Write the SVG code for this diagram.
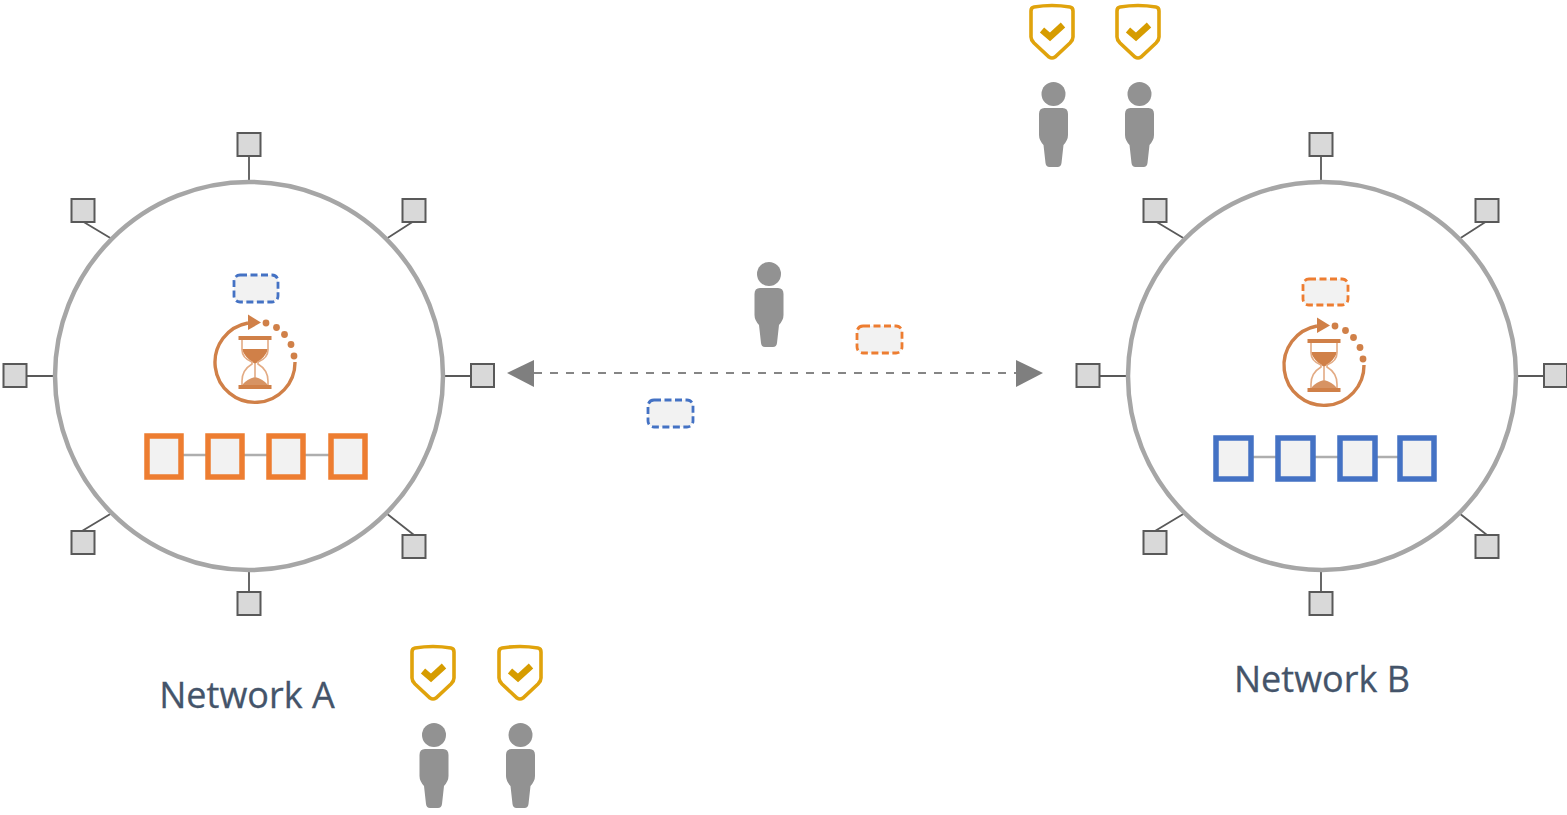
<svg xmlns="http://www.w3.org/2000/svg" xmlns:xlink="http://www.w3.org/1999/xlink" width="1567" height="815" viewBox="0 0 1567 815">
<style>
.ring{fill:#fff;stroke:#a6a6a6;stroke-width:4.500}
.port{fill:#d9d9d9;stroke:#595959;stroke-width:2}
.link{stroke:#595959;stroke-width:1.800;fill:none}
.cell{fill:#f2f2f2;stroke-width:5.500}
.chain{stroke:#aeaeae;stroke-width:2.500;fill:none}
.pkt{fill:#f2f2f2;stroke-width:2.800;stroke-dasharray:7 3.500}
.o{stroke:#ed7d31}
.b{stroke:#4472c4}
.person{fill:#929292}
.label{font-family:"Open Sans","Noto Sans","Liberation Sans",sans-serif;font-size:36px;fill:#44546a;text-anchor:middle;stroke:#44546a;stroke-width:.3}
</style>
<defs>
<g id="person">
<circle cx="0" cy="-34" r="12"/>
<path d="M-9,-20H9Q14.500,-20 14.500,-14V7Q14.500,12 10,17L8,35Q7.500,39 4,39H-4Q-7.500,39 -8,35L-10,17Q-14.500,12 -14.500,7V-14Q-14.500,-20 -9,-20Z"/>
</g>
<g id="shield">
<path d="M-21,-21Q-21,-24.500 -18,-25Q0,-28 18,-25Q21,-24.500 21,-21V5Q21,8 18,11L3,25Q0,27 -3,25L-18,11Q-21,8 -21,5Z" fill="#fff" stroke="#e0a30c" stroke-width="3.600"/>
<path d="M-10,-2L-2,5L11,-7" fill="none" stroke="#d69c00" stroke-width="6.500"/>
</g>
<g id="timer">
<path fill="none" stroke="#d08048" stroke-width="3.400" d="M-7,-39A40,40 0 1 0 40,0"/>
<path d="M-7,-47.500L6,-39.500L-7,-32Z" fill="#d08048"/>
<g fill="#d08048">
<circle cx="11" cy="-39" r="3.400"/><circle cx="21.500" cy="-34.500" r="3.400"/><circle cx="29.500" cy="-27.500" r="3.400"/><circle cx="36" cy="-17.500" r="3.400"/><circle cx="39" cy="-6" r="3.400"/>
<rect x="-16.500" y="-26" width="33" height="4"/><rect x="-16.500" y="23" width="33" height="4"/>
<path d="M-13,-13H13Q11,-5 0,2Q-11,-5 -13,-13Z"/>
<path d="M-13,23Q-8,17 0,15Q8,17 13,23Z" opacity=".85"/>
</g>
<path fill="none" stroke="#e3ab84" stroke-width="1.600" d="M-13,-22V-12Q-13,-4 -3,0V2Q-13,8 -13,19V23M13,-22V-12Q13,-4 3,0V2Q13,8 13,19V23M0,2V15"/>
</g>
<g id="ports-a">
<path class="link" d="M0,-194V-220M-137,-137L-167,-155M137,-137L165,-155M-194,0H-222M194,0H222M-137,137L-167,155M137,137L165,159M0,194V216"/>
<rect class="port" x="-11.500" y="-243" width="23" height="23"/>
<rect class="port" x="-177.500" y="-177" width="23" height="23"/>
<rect class="port" x="153.500" y="-177" width="23" height="23"/>
<rect class="port" x="-245.500" y="-12" width="23" height="23"/>
<rect class="port" x="222" y="-12" width="23" height="23"/>
<rect class="port" x="-177.500" y="155" width="23" height="23"/>
<rect class="port" x="153.500" y="159" width="23" height="23"/>
<rect class="port" x="-11.500" y="216" width="23" height="23"/>
</g>
<g id="ports-b">
<path class="link" d="M-1,-194V-220M-137,-137L-167,-155M137,-137L165,-155M-194,0H-222M194,0H222M-137,137L-167,155M137,137L165,159M-1,194V216"/>
<rect class="port" x="-12.500" y="-243" width="23" height="23"/>
<rect class="port" x="-178.500" y="-177" width="23" height="23"/>
<rect class="port" x="153.500" y="-177" width="23" height="23"/>
<rect class="port" x="-245.500" y="-12" width="23" height="23"/>
<rect class="port" x="222" y="-12" width="23" height="23"/>
<rect class="port" x="-178.500" y="155" width="23" height="23"/>
<rect class="port" x="153.500" y="159" width="23" height="23"/>
<rect class="port" x="-12.500" y="216" width="23" height="23"/>
</g>
</defs>

<g id="connectors">
<path d="M534,373H1016" fill="none" stroke="#858585" stroke-width="2.200" stroke-dasharray="8 8"/>
<path d="M507,373L534,360V387Z" fill="#7f7f7f"/>
<path d="M1043,373L1016,360V387Z" fill="#7f7f7f"/>
</g>

<g id="network-a">
<use xlink:href="#ports-a" href="#ports-a" x="249" y="376"/>
<circle class="ring" cx="249" cy="376" r="194"/>
<rect class="pkt b" x="234" y="275" width="44" height="27" rx="6"/>
<use href="#timer" x="255" y="362" xlink:href="#timer"/>
<path class="chain" d="M183,455H206M244,455H267M305,455H330"/>
<rect class="cell o" x="147" y="436" width="34" height="41"/>
<rect class="cell o" x="208" y="436" width="34" height="41"/>
<rect class="cell o" x="269" y="436" width="34" height="41"/>
<rect class="cell o" x="331" y="436" width="34" height="41"/>
<text class="label" x="247" y="708">Network A</text>
</g>

<g id="network-b">
<use href="#ports-b" x="1322" y="376" xlink:href="#ports-b"/>
<circle class="ring" cx="1322" cy="376" r="194"/>
<rect class="pkt o" x="1303" y="279" width="45" height="26" rx="6"/>
<use href="#timer" x="1324" y="365" xlink:href="#timer"/>
<path class="chain" d="M1252,457H1277M1314,457H1339M1375,457H1399"/>
<rect class="cell b" x="1216" y="438" width="35" height="41"/>
<rect class="cell b" x="1278" y="438" width="35" height="41"/>
<rect class="cell b" x="1340" y="438" width="35" height="41"/>
<rect class="cell b" x="1400" y="438" width="34" height="41"/>
<text class="label" x="1322" y="692">Network B</text>
</g>

<g id="user-center"><use class="person" href="#person" x="769" y="308" xlink:href="#person"/></g>
<g id="packet-orange"><rect class="pkt o" x="857" y="326" width="45" height="27" rx="6"/></g>
<g id="packet-blue"><rect class="pkt b" x="648" y="400" width="45" height="27" rx="6"/></g>

<g id="verified-a1"><use href="#shield" x="433" y="673" xlink:href="#shield"/><use class="person" href="#person" x="434" y="769" xlink:href="#person"/></g>
<g id="verified-a2"><use href="#shield" x="520" y="673" xlink:href="#shield"/><use class="person" href="#person" x="520.500" y="769" xlink:href="#person"/></g>
<g id="verified-b1"><use href="#shield" x="1052" y="32" xlink:href="#shield"/><use class="person" href="#person" x="1053.500" y="128" xlink:href="#person"/></g>
<g id="verified-b2"><use href="#shield" x="1138" y="32" xlink:href="#shield"/><use class="person" href="#person" x="1139.500" y="128" xlink:href="#person"/></g>
</svg>
